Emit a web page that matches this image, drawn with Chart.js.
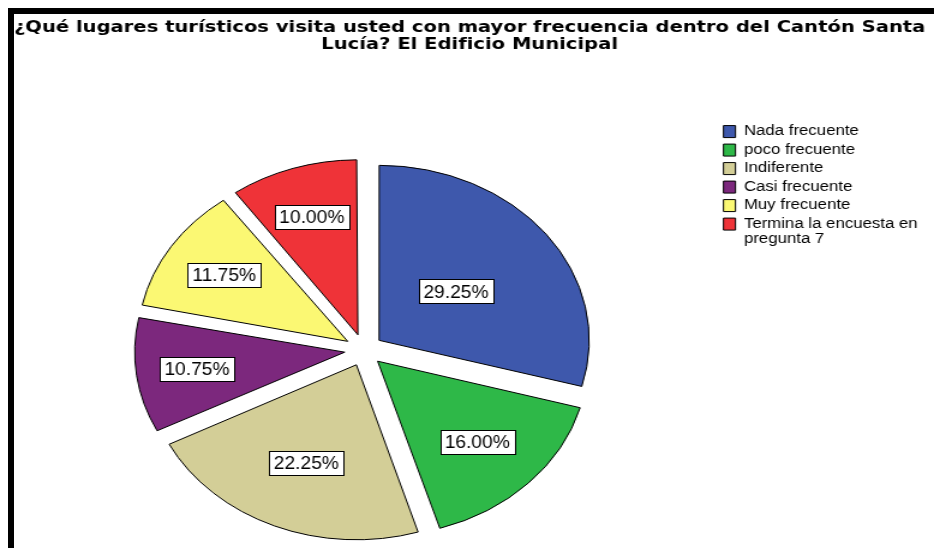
<!DOCTYPE html>
<html lang="es">
<head>
<meta charset="UTF-8">
<title>Edificio Municipal</title>
<style>
  body { margin: 0; background: #fff; overflow: hidden; width: 934px; height: 548px; }
  /* marco negro arriba y a la izquierda */
  #marco { position: absolute; left: 8px; top: 8px; width: 926px; height: 540px;
           border-top: 6px solid #000; border-left: 6px solid #000; box-sizing: border-box; z-index: 2; }
  /* la imagen original esta estirada a lo ancho */
  #caja { position: absolute; left: 0; top: 0; width: 778px; height: 580px;
          transform: scaleX(1.2005); transform-origin: 0 0; }
</style>
</head>
<body>
<div id="marco"></div>
<div id="caja"><canvas id="graficaPie"></canvas></div>

<script src="https://cdn.jsdelivr.net/npm/chart.js"></script>
<script>
const titulo = ['¿Qué lugares turísticos visita usted con mayor frecuencia dentro del Cantón Santa',
                'Lucía? El Edificio Municipal'];
const categorias = ['Nada frecuente', 'poco frecuente', 'Indiferente', 'Casi frecuente', 'Muy frecuente',
                    ['Termina la encuesta en', 'pregunta 7']];
const porcentajes = [29.25, 16.00, 22.25, 10.75, 11.75, 10.00];
const colores = ['#3e58ac', '#2eb848', '#d3ce97', '#7c287d', '#fbf873', '#ef3338'];
// distancia de cada etiqueta al vertice del sector (fraccion del radio)
const posEtiqueta = [0.46, 0.66, 0.61, 0.71, 0.70, 0.71];

// chart.js agranda los sectores chicos cuando usan offset, se corrige
const radioParejo = {
    id: 'radioParejo',
    afterDatasetUpdate(chart, args) {
        args.meta.data.forEach(arco => {
            const off = (arco.options.offset || 0) / 4;
            const fix = 1 - Math.sin(Math.min(Math.PI, arco.circumference));
            arco.outerRadius -= off * fix;
        });
    }
};

// cajitas blancas con el porcentaje
const etiquetas = {
    id: 'etiquetas',
    afterDatasetsDraw(chart) {
        const ctx = chart.ctx;
        const meta = chart.getDatasetMeta(0);
        const radio = meta.controller.outerRadius;
        ctx.save();
        ctx.font = '16px "Liberation Sans", Arial, sans-serif';
        ctx.textAlign = 'center';
        ctx.textBaseline = 'middle';
        meta.data.forEach((arco, i) => {
            const texto = porcentajes[i].toFixed(2) + '%';
            const medio = (arco.startAngle + arco.endAngle) / 2;
            const dist = (arco.options.offset || 0) / 4 + posEtiqueta[i] * radio;
            const x = arco.x + Math.cos(medio) * dist;
            const y = arco.y + Math.sin(medio) * dist;
            const w = Math.round(ctx.measureText(texto).width + 8);
            const h = 24;
            const bx = Math.round(x - w / 2) + 0.5;
            const by = Math.round(y - h / 2) + 0.5;
            ctx.fillStyle = '#fff';
            ctx.fillRect(bx, by, w, h);
            ctx.strokeStyle = '#000';
            ctx.lineWidth = 1;
            ctx.strokeRect(bx, by, w, h);
            ctx.save();
            ctx.translate(x, y + 1);
            ctx.scale(1, 1.2);
            ctx.fillStyle = '#000';
            ctx.fillText(texto, 0, 0);
            ctx.restore();
        });
        ctx.restore();
    }
};

new Chart(document.getElementById('graficaPie'), {
    type: 'pie',
    data: {
        labels: categorias,
        datasets: [{
            data: porcentajes,
            backgroundColor: colores,
            borderColor: '#000',
            borderWidth: 1,
            offset: 64,
            radius: 175
        }]
    },
    options: {
        responsive: true,
        maintainAspectRatio: false,
        animation: false,
        layout: { padding: { left: 8, right: 3.6, top: 0, bottom: 0 } },
        plugins: {
            title: {
                display: true,
                text: titulo,
                color: '#000',
                font: { family: '"DejaVu Sans"', size: 16.3, weight: 'bold', lineHeight: 1.07 },
                padding: { top: 18.6, bottom: 66.6 }
            },
            legend: {
                position: 'right',
                align: 'start',
                fullSize: false,
                labels: {
                    boxWidth: 10,
                    boxHeight: 12,
                    padding: 4.5,
                    color: '#000',
                    font: { family: '"Liberation Sans"', size: 14, lineHeight: 1.1 }
                }
            },
            tooltip: { enabled: false }
        }
    },
    plugins: [radioParejo, etiquetas]
});
</script>
</body>
</html>
